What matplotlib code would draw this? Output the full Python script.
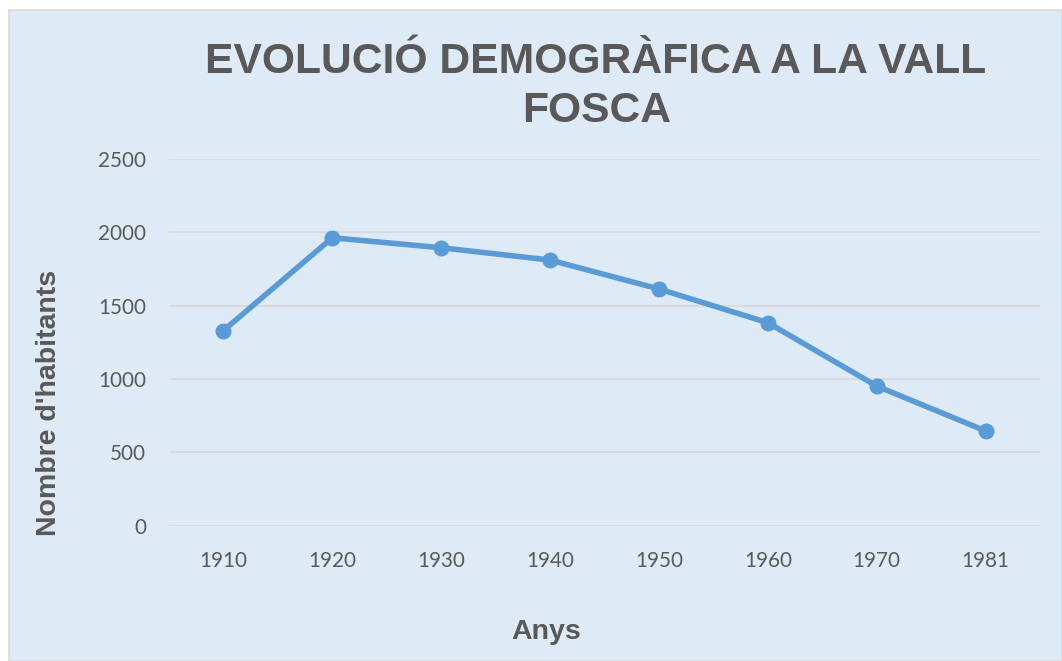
import matplotlib
matplotlib.use("Agg")
import matplotlib.pyplot as plt
from matplotlib.patches import Rectangle

years = ["1910", "1920", "1930", "1940", "1950", "1960", "1970", "1981"]
habitants = [1330, 1963, 1895, 1811, 1614, 1384, 952, 646]
yticks = [0, 500, 1000, 1500, 2000, 2500]
title_lines = ["EVOLUCIÓ DEMOGRÀFICA A LA VALL", "FOSCA"]
xlabel = "Anys"
ylabel = "Nombre d'habitants"

W, H = 1062, 661
BG = "#DEEBF7"
GRID = "#D9D9D9"
TXT = "#595959"
LINE = "#5B9BD5"

fig = plt.figure(figsize=(W / 100, H / 100), dpi=100, facecolor="white")

# chart area background with border
fig.patches.append(Rectangle((8.5 / W, 0), 1 - 8.5 / W, 1 - 9.5 / H,
                             transform=fig.transFigure, facecolor=BG,
                             edgecolor=GRID, linewidth=1.2, zorder=-10))

ax = fig.add_axes([169 / W, (H - 525.7) / H, (1040 - 169) / W, (525.7 - 159) / H])
ax.set_facecolor("none")
ax.set_zorder(1)

x = list(range(len(years)))
ax.plot(x, habitants, color=LINE, linewidth=4.0, marker="o", markersize=10.5,
        solid_capstyle="round", zorder=3)

ax.set_xlim(-0.5, len(years) - 0.5)
ax.set_ylim(0, 2500)
ax.set_yticks(yticks)
ax.set_yticklabels([str(v) for v in yticks])
ax.set_xticks(x)
ax.set_xticklabels(years)
ax.grid(axis="y", color=GRID, linewidth=1.3)
ax.set_axisbelow(True)
for s in ax.spines.values():
    s.set_visible(False)
ax.tick_params(axis="both", length=0, labelsize=14.9, labelcolor=TXT)
ax.tick_params(axis="x", pad=18.5)
ax.tick_params(axis="y", pad=16.5)
for lab in ax.get_xticklabels() + ax.get_yticklabels():
    lab.set_fontfamily("Lato")

# title
fig.text(596 / W, 1 - 73.3 / H, title_lines[0], ha="center", va="baseline",
         fontsize=30.7, fontweight="bold", color=TXT, family="Liberation Sans")
fig.text(597 / W, 1 - 122 / H, title_lines[1], ha="center", va="baseline",
         fontsize=30.7, fontweight="bold", color=TXT, family="Liberation Sans")

# axis titles
fig.text(546 / W, 1 - 639 / H, xlabel, ha="center", va="baseline",
         fontsize=20.5, fontweight="bold", color=TXT, family="Liberation Sans")
fig.text(49.5 / W, 1 - 403 / H, ylabel, ha="center", va="center", rotation=90,
         fontsize=20.5, fontweight="bold", color=TXT, family="Liberation Sans")

fig.savefig("out.png", dpi=100, facecolor="white")
